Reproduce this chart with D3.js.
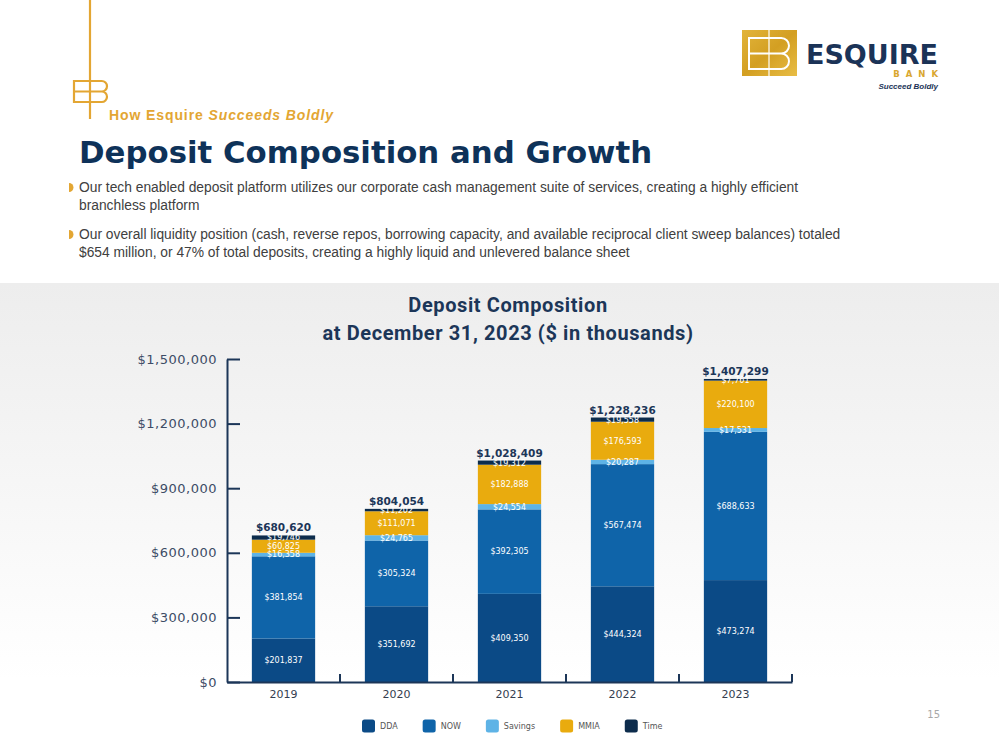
<!DOCTYPE html>
<html>
<head>
<meta charset="utf-8">
<script src="https://cdn.jsdelivr.net/npm/d3@7"></script>
<style>
  html, body { margin: 0; padding: 0; background: #fff; }
  #slide { width: 999px; height: 750px; }
</style>
</head>
<body>
<div id="slide"></div>
<script>
// Deposit Composition - stacked bars by year
const years = ["2019", "2020", "2021", "2022", "2023"];
const seriesNames = ["DDA", "NOW", "Savings", "MMIA", "Time"];
const ddaValues = [201837, 351692, 409350, 444324, 473274];
const nowValues = [381854, 305324, 392305, 567474, 688633];
const savingsValues = [16358, 24765, 24554, 20287, 17531];
const mmiaValues = [60825, 111071, 182888, 176593, 220100];
const timeValues = [19746, 11202, 19312, 19558, 7761];
const yTickValues = [0, 300000, 600000, 900000, 1200000, 1500000];
const seriesColors = ["#0b4a86", "#0f64a9", "#5eb3e6", "#e9ab0e", "#0d2c4c"];

const bullets = [
    ["Our tech enabled deposit platform utilizes our corporate cash management suite of services, creating a highly efficient",
     "branchless platform"],
    ["Our overall liquidity position (cash, reverse repos, borrowing capacity, and available reciprocal client sweep balances) totaled",
     "$654 million, or 47% of total deposits, creating a highly liquid and unlevered balance sheet"]
];

function drawSlide() {
    const W = 999, H = 750;
    const navy = "#1c3658";
    const gold = "#e3a633";
    const chartFont = "'DejaVu Sans', sans-serif";

    const svg = d3.select("#slide").append("svg")
        .attr("width", W)
        .attr("height", H);

    const defs = svg.append("defs");
    const bg = defs.append("linearGradient")
        .attr("id", "bgGrad").attr("x1", 0).attr("y1", 0).attr("x2", 0).attr("y2", 1);
    bg.append("stop").attr("offset", "0%").attr("stop-color", "#ededed");
    bg.append("stop").attr("offset", "85%").attr("stop-color", "#ffffff");
    const goldGrad = defs.append("linearGradient")
        .attr("id", "goldGrad").attr("x1", 0).attr("y1", 0).attr("x2", 1).attr("y2", 1);
    goldGrad.append("stop").attr("offset", "0%").attr("stop-color", "#e2b43a");
    goldGrad.append("stop").attr("offset", "50%").attr("stop-color", "#d39f22");
    goldGrad.append("stop").attr("offset", "100%").attr("stop-color", "#e8bd45");

    // grey panel behind the chart
    svg.append("rect")
        .attr("x", 0).attr("y", 283)
        .attr("width", W).attr("height", H - 283)
        .attr("fill", "url(#bgGrad)");

    // ---------- header ----------
    svg.append("line")
        .attr("x1", 90).attr("x2", 90).attr("y1", 0).attr("y2", 119)
        .attr("stroke", gold).attr("stroke-width", 2.2);

    function ebMark(g, x0, y0, w, h, color, sw) {
        const r = h / 4;
        const xr = x0 + w - r;
        const p = d3.path();
        p.moveTo(xr, y0); p.lineTo(x0, y0); p.lineTo(x0, y0 + h); p.lineTo(xr, y0 + h);
        p.moveTo(x0, y0 + h / 2); p.lineTo(xr, y0 + h / 2);
        p.moveTo(xr, y0); p.arc(xr, y0 + r, r, -Math.PI / 2, Math.PI / 2);
        p.moveTo(xr, y0 + h / 2); p.arc(xr, y0 + 3 * r, r, -Math.PI / 2, Math.PI / 2);
        g.append("path").attr("d", p.toString())
            .attr("fill", "none").attr("stroke", color).attr("stroke-width", sw);
    }
    ebMark(svg, 74, 81, 33, 21, gold, 2.2);

    const kicker = svg.append("text")
        .attr("x", 109).attr("y", 120)
        .attr("font-family", "'Liberation Sans', Arial, sans-serif")
        .attr("font-size", "14px").attr("font-weight", "bold")
        .attr("letter-spacing", "0.9px")
        .attr("fill", gold);
    kicker.append("tspan").text("How Esquire ");
    kicker.append("tspan").attr("font-style", "italic").text("Succeeds Boldly");

    svg.append("text")
        .attr("x", 79).attr("y", 163)
        .attr("font-family", "'DejaVu Sans', sans-serif")
        .attr("font-size", "30.8px").attr("font-weight", "bold")
        .attr("fill", "#0e3259")
        .text("Deposit Composition and Growth");

    // logo
    svg.append("rect")
        .attr("x", 742).attr("y", 30).attr("width", 55).attr("height", 46)
        .attr("fill", "url(#goldGrad)");
    ebMark(svg, 749, 38, 40, 31, "#fff", 2);
    svg.append("line")
        .attr("x1", 769).attr("x2", 769).attr("y1", 30).attr("y2", 76)
        .attr("stroke", "#fff").attr("stroke-width", 1.2);
    svg.append("text")
        .attr("x", 938).attr("y", 64).attr("text-anchor", "end")
        .attr("font-family", "'DejaVu Sans', sans-serif")
        .attr("font-size", "27px").attr("font-weight", "bold")
        .attr("fill", "#1b3357")
        .text("ESQUIRE");
    svg.append("text")
        .attr("x", 944).attr("y", 77).attr("text-anchor", "end")
        .attr("font-family", "'DejaVu Sans', sans-serif")
        .attr("font-size", "8.5px").attr("font-weight", "bold")
        .attr("letter-spacing", "6px")
        .attr("fill", "#d9a730")
        .text("BANK");
    svg.append("text")
        .attr("x", 938).attr("y", 89).attr("text-anchor", "end")
        .attr("font-family", "'Liberation Sans', Arial, sans-serif")
        .attr("font-size", "8px").attr("font-weight", "bold").attr("font-style", "italic")
        .attr("fill", "#1b3357")
        .text("Succeed Boldly");

    // bullets
    const bulletTop = [192, 239];
    bullets.forEach(function(lines, i) {
        const by = bulletTop[i] - 4.5;
        const bp = d3.path();
        bp.moveTo(69, by - 4.5);
        bp.arc(69, by, 4.5, -Math.PI / 2, Math.PI / 2);
        bp.closePath();
        svg.append("path").attr("d", bp.toString()).attr("fill", gold);
        lines.forEach(function(line, j) {
            svg.append("text")
                .attr("x", 79).attr("y", bulletTop[i] + j * 18)
                .attr("font-family", "'Liberation Sans', Arial, sans-serif")
                .attr("font-size", "13.8px")
                .attr("fill", "#404040")
                .text(line);
        });
    });

    // ---------- chart ----------
    const left = 227, right = 792, top = 359, bottom = 682;

    svg.append("text")
        .attr("x", 508).attr("y", 312).attr("text-anchor", "middle")
        .attr("font-family", "Roboto, sans-serif")
        .attr("font-size", "20px").attr("font-weight", "bold")
        .attr("letter-spacing", "0.6px")
        .attr("fill", navy)
        .text("Deposit Composition");
    svg.append("text")
        .attr("x", 508).attr("y", 340).attr("text-anchor", "middle")
        .attr("font-family", "Roboto, sans-serif")
        .attr("font-size", "20px").attr("font-weight", "bold")
        .attr("letter-spacing", "0.6px")
        .attr("fill", navy)
        .text("at December 31, 2023 ($ in thousands)");

    const table = years.map(function(yr, i) {
        return { year: yr, DDA: ddaValues[i], NOW: nowValues[i], Savings: savingsValues[i],
                 MMIA: mmiaValues[i], Time: timeValues[i] };
    });
    const stacked = d3.stack().keys(seriesNames)(table);

    const xScale = d3.scaleBand()
        .domain(years)
        .range([left, right])
        .paddingInner(0.44)
        .paddingOuter(0.22);

    const yScale = d3.scaleLinear()
        .domain([0, 1500000])
        .range([bottom, top]);

    const colorScale = d3.scaleOrdinal().domain(seriesNames).range(seriesColors);

    // bars
    const layers = svg.append("g").selectAll("g")
        .data(stacked)
        .enter().append("g")
        .attr("fill", d => colorScale(d.key));

    layers.selectAll("rect")
        .data(d => d)
        .enter().append("rect")
        .attr("x", d => xScale(d.data.year))
        .attr("width", xScale.bandwidth())
        .attr("y", d => yScale(d[1]))
        .attr("height", d => yScale(d[0]) - yScale(d[1]));

    // segment labels
    const fmt = d3.format(",");
    layers.each(function(layer) {
        d3.select(this.parentNode).append("g")
            .selectAll("text")
            .data(layer)
            .enter().append("text")
            .attr("x", d => xScale(d.data.year) + xScale.bandwidth() / 2)
            .attr("y", d => yScale((d[0] + d[1]) / 2))
            .attr("dy", "0.36em")
            .attr("text-anchor", "middle")
            .attr("font-family", chartFont)
            .attr("font-size", "8px")
            .attr("fill", "#ffffff")
            .text(d => "$" + fmt(d[1] - d[0]));
    });

    // totals
    const lastLayer = stacked[stacked.length - 1];
    svg.append("g").selectAll("text")
        .data(lastLayer)
        .enter().append("text")
        .attr("x", d => xScale(d.data.year) + xScale.bandwidth() / 2)
        .attr("y", d => yScale(d[1]) - 4)
        .attr("text-anchor", "middle")
        .attr("font-family", chartFont)
        .attr("font-size", "10.5px").attr("font-weight", "bold")
        .attr("fill", navy)
        .text(d => "$" + fmt(d[1]));

    // y axis
    const yAxis = d3.axisLeft(yScale)
        .tickValues(yTickValues)
        .tickSizeInner(-13)
        .tickSizeOuter(0)
        .tickPadding(10)
        .tickFormat(d => "$" + fmt(d));

    const yG = svg.append("g")
        .attr("transform", `translate(${left},0)`)
        .call(yAxis);
    yG.select(".domain").attr("stroke", navy).attr("stroke-width", 2);
    yG.selectAll(".tick line").attr("stroke", navy).attr("stroke-width", 2);
    yG.selectAll("text")
        .attr("font-family", chartFont)
        .attr("font-size", "13px")
        .attr("letter-spacing", "0.5px")
        .attr("fill", "#3d4c66");

    // x axis: labels only, ticks between categories
    const xAxis = d3.axisBottom(xScale).tickSize(0).tickPadding(8);
    const xG = svg.append("g")
        .attr("transform", `translate(0,${bottom})`)
        .call(xAxis);
    xG.select(".domain").attr("stroke", navy).attr("stroke-width", 2);
    xG.selectAll("text")
        .attr("font-family", chartFont)
        .attr("font-size", "11px")
        .attr("fill", "#333d4f");

    xG.selectAll(".sep")
        .data(years)
        .enter().append("line")
        .attr("class", "sep")
        .attr("x1", d => xScale(d) + xScale.bandwidth() + (xScale.step() - xScale.bandwidth()) / 2)
        .attr("x2", d => xScale(d) + xScale.bandwidth() + (xScale.step() - xScale.bandwidth()) / 2)
        .attr("y1", 0).attr("y2", -8)
        .attr("stroke", navy).attr("stroke-width", 2);

    // legend
    const legend = svg.append("g").attr("transform", "translate(362,726)");
    let lx = 0;
    seriesNames.forEach(function(name) {
        const item = legend.append("g").attr("transform", `translate(${lx},0)`);
        item.append("rect")
            .attr("x", 0).attr("y", -6.5)
            .attr("width", 13).attr("height", 13)
            .attr("rx", 2.5)
            .attr("fill", colorScale(name));
        const t = item.append("text")
            .attr("x", 18).attr("y", 0).attr("dy", "0.35em")
            .attr("font-family", chartFont)
            .attr("font-size", "8px")
            .attr("fill", "#555")
            .text(name);
        lx += 18 + t.node().getComputedTextLength() + 25;
    });

    // page number
    svg.append("text")
        .attr("x", 940).attr("y", 718).attr("text-anchor", "end")
        .attr("font-family", chartFont)
        .attr("font-size", "10px")
        .attr("fill", "#a8a8a8")
        .text("15");
}

drawSlide();
</script>
</body>
</html>
